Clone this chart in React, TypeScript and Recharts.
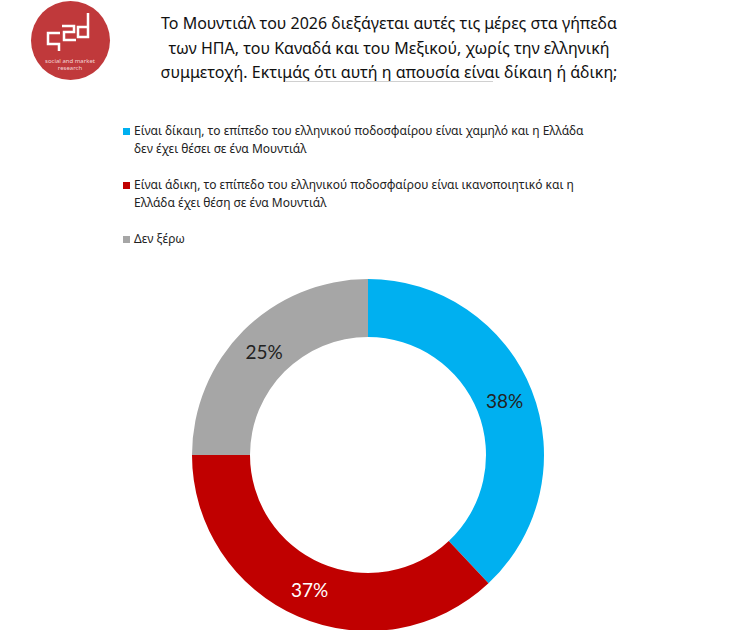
import { PieChart, Pie, Cell } from 'recharts';

const categories = [
  'Είναι δίκαιη, το επίπεδο του ελληνικού ποδοσφαίρου είναι χαμηλό και η Ελλάδα δεν έχει θέσει σε ένα Μουντιάλ',
  'Είναι άδικη, το επίπεδο του ελληνικού ποδοσφαίρου είναι ικανοποιητικό και η Ελλάδα έχει θέση σε ένα Μουντιάλ',
  'Δεν ξέρω',
];
const legendLines = [
  ['Είναι δίκαιη, το επίπεδο του ελληνικού ποδοσφαίρου είναι χαμηλό και η Ελλάδα', 'δεν έχει θέσει σε ένα Μουντιάλ'],
  ['Είναι άδικη, το επίπεδο του ελληνικού ποδοσφαίρου είναι ικανοποιητικό και η', 'Ελλάδα έχει θέση σε ένα Μουντιάλ'],
  ['Δεν ξέρω'],
];
const values = [38, 37, 25];
const colors = ['#00B0F0', '#C00000', '#A6A6A6'];
const labelColors = ['#222222', '#ffffff', '#222222'];
const titleLines = [
  'Το Μουντιάλ του 2026 διεξάγεται αυτές τις μέρες στα γήπεδα',
  'των ΗΠΑ, του Καναδά και του Μεξικού, χωρίς την ελληνική',
  'συμμετοχή. Εκτιμάς ότι αυτή η απουσία είναι δίκαιη ή άδικη;',
];

const data = categories.map((name, i) => ({ name, value: values[i], idx: i }));

const RAD = Math.PI / 180;

function renderLabel(props: any) {
  const { cx, cy, midAngle, innerRadius, outerRadius, value, index } = props;
  const r = (innerRadius + outerRadius) / 2;
  const x = cx + r * Math.cos(-midAngle * RAD);
  const y = cy + r * Math.sin(-midAngle * RAD);
  return (
    <text
      x={x}
      y={y}
      fill={labelColors[index]}
      textAnchor="middle"
      dominantBaseline="central"
      fontFamily="Lato"
      fontSize={19}
    >
      {value}%
    </text>
  );
}

function ChartLegend() {
  return (
    <div
      style={{
        position: 'absolute',
        left: 123,
        top: 122,
        width: 580,
        fontFamily: '"Noto Sans", sans-serif',
        fontSize: 12,
        color: '#222',
        lineHeight: '18px',
      }}
    >
      {legendLines.map((lines, i) => (
        <div key={i} style={{ position: 'relative', paddingLeft: 11, marginBottom: 18 }}>
          <span
            style={{
              position: 'absolute',
              left: 0,
              top: 6,
              width: 7,
              height: 7,
              background: colors[i],
            }}
          />
          {lines.map((l, j) => (
            <div key={j}>{l}</div>
          ))}
        </div>
      ))}
    </div>
  );
}

function Logo() {
  return (
    <div
      style={{
        position: 'absolute',
        left: 31,
        top: 1,
        width: 79,
        height: 79,
        borderRadius: '50%',
        background: '#C0393B',
      }}
    >
      <svg width={79} height={79} style={{ position: 'absolute', left: 0, top: 0 }}>
        <path
          d="M29 32 H17 V43 H28 V50 M31 25 H43 V31 H33 V39 H45 M57 12 V36 H47 V26 H57"
          stroke="#fff"
          strokeWidth={2.5}
          fill="none"
        />
        <text x={39} y={62} fill="#f4d6d6" fontSize={6} textAnchor="middle" fontFamily="Noto Sans">
          social and market
        </text>
        <text x={39} y={69} fill="#f4d6d6" fontSize={6} textAnchor="middle" fontFamily="Noto Sans">
          research
        </text>
      </svg>
    </div>
  );
}

export default function App() {
  return (
    <div style={{ position: 'absolute', left: 0, top: 0, width: 734, height: 630, background: '#fff', overflow: 'hidden' }}>
      <Logo />
      <div
        style={{
          position: 'absolute',
          left: 132,
          top: 11,
          width: 514,
          textAlign: 'center',
          fontFamily: '"Noto Sans", sans-serif',
          fontSize: 16,
          lineHeight: '24.5px',
          color: '#111',
        }}
      >
        {titleLines.map((l, i) => (
          <div key={i}>{l}</div>
        ))}
      </div>
      <div style={{ position: 'absolute', left: 285, top: 81, width: 208, height: 1, background: '#d0d0d0' }} />
      <ChartLegend />
      <div style={{ position: 'absolute', left: 0, top: 0 }}>
        <PieChart width={734} height={630} margin={{ top: 0, right: 0, bottom: 0, left: 0 }}>
          <Pie
            data={data}
            dataKey="value"
            nameKey="name"
            cx={368}
            cy={455}
            innerRadius={118}
            outerRadius={176}
            startAngle={90}
            endAngle={-270}
            stroke="none"
            label={renderLabel}
            labelLine={false}
            isAnimationActive={false}
          >
            {data.map((d) => (
              <Cell key={d.idx} fill={colors[d.idx]} />
            ))}
          </Pie>
        </PieChart>
      </div>
    </div>
  );
}
